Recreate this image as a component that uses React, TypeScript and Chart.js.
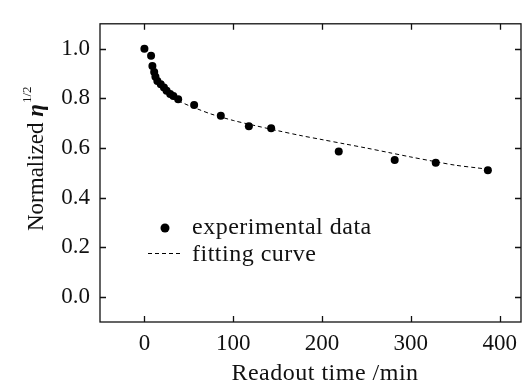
import React, { useEffect, useRef } from "react";
import { Chart, registerables } from "chart.js";

Chart.register(...registerables);

const timeMin = [0, 7.5, 9, 11, 12.4, 14.6, 18.4, 22, 25, 29, 32.6, 38, 56, 86, 117.6, 142.7, 218.8, 281.8, 328, 386.7];
const etaNorm = [1.0, 0.971, 0.93, 0.906, 0.887, 0.87, 0.857, 0.844, 0.831, 0.818, 0.809, 0.796, 0.773, 0.73, 0.688, 0.68, 0.586, 0.552, 0.541, 0.511];

const fitTime = [38, 50, 60, 75, 100, 125, 150, 175, 200, 225, 250, 275, 300, 325, 350, 375, 388];
const fitEta = [0.79, 0.771, 0.757, 0.737, 0.711, 0.69, 0.67, 0.651, 0.634, 0.617, 0.6, 0.582, 0.564, 0.547, 0.531, 0.52, 0.514];

const xTicks = [0, 100, 200, 300, 400];
const yTicks = [0.0, 0.2, 0.4, 0.6, 0.8, 1.0];

const xTitle = "Readout time /min";
const yTitleMain = "Normalized ";
const yTitleSymbol = "η";
const yTitleSup = "1/2";
const legendPoints = "experimental data";
const legendCurve = "fitting curve";

const FONT = "'Liberation Serif', 'Times New Roman', serif";

const framePlugin = {
  id: "frame",
  afterDraw(chart: any) {
    const { ctx, chartArea: a, scales } = chart;
    const xs = scales.x;
    const ys = scales.y;
    ctx.save();
    ctx.strokeStyle = "#111";
    ctx.lineWidth = 1.3;
    ctx.strokeRect(a.left, a.top, a.right - a.left, a.bottom - a.top);
    const tl = 6;
    ctx.beginPath();
    for (const v of xTicks) {
      const px = Math.round(xs.getPixelForValue(v)) + 0.5;
      ctx.moveTo(px, a.bottom);
      ctx.lineTo(px, a.bottom - tl);
      ctx.moveTo(px, a.top);
      ctx.lineTo(px, a.top + tl);
    }
    for (const v of yTicks) {
      const py = Math.round(ys.getPixelForValue(v)) + 0.5;
      ctx.moveTo(a.left, py);
      ctx.lineTo(a.left + tl, py);
      ctx.moveTo(a.right, py);
      ctx.lineTo(a.right - tl, py);
    }
    ctx.stroke();

    // x title
    ctx.fillStyle = "#111";
    ctx.font = `24px ${FONT}`;
    (ctx as any).letterSpacing = "0.5px";
    ctx.textAlign = "center";
    ctx.textBaseline = "alphabetic";
    ctx.fillText(xTitle, 325, 380);

    // legend text
    ctx.textAlign = "left";
    ctx.fillText(legendPoints, 192, 234);
    ctx.fillText(legendCurve, 192, 261);
    (ctx as any).letterSpacing = "0px";

    // y title (rotated)
    ctx.save();
    ctx.translate(43, 231);
    ctx.rotate(-Math.PI / 2);
    ctx.textAlign = "left";
    ctx.font = `23px ${FONT}`;
    ctx.fillText(yTitleMain, 0, 0);
    let w = ctx.measureText(yTitleMain).width;
    ctx.font = `italic bold 23px ${FONT}`;
    ctx.fillText(yTitleSymbol, w, 0);
    w += ctx.measureText(yTitleSymbol).width + 1;
    ctx.font = `13px ${FONT}`;
    ctx.fillText(yTitleSup, w, -12);
    ctx.restore();

    // legend marks
    ctx.fillStyle = "#000";
    ctx.beginPath();
    ctx.arc(165, 228, 4.5, 0, Math.PI * 2);
    ctx.fill();
    ctx.strokeStyle = "#000";
    ctx.lineWidth = 1;
    ctx.setLineDash([4, 3]);
    ctx.beginPath();
    ctx.moveTo(148, 253.5);
    ctx.lineTo(182, 253.5);
    ctx.stroke();
    ctx.restore();
  },
};

export default function App() {
  const ref = useRef<HTMLCanvasElement | null>(null);
  useEffect(() => {
    document.body.style.margin = "0";
    const canvas = ref.current!;
    const chart = new Chart(canvas, {
      type: "scatter",
      data: {
        datasets: [
          {
            label: legendCurve,
            data: fitTime.map((t, i) => ({ x: t, y: fitEta[i] })),
            showLine: true,
            borderColor: "#000",
            borderWidth: 1,
            borderDash: [4, 3],
            pointRadius: 0,
            fill: false,
            tension: 0.3,
          },
          {
            label: legendPoints,
            data: timeMin.map((t, i) => ({ x: t, y: etaNorm[i] })),
            backgroundColor: "#000",
            borderColor: "#000",
            pointRadius: 4,
            borderWidth: 0,
          },
        ],
      },
      options: {
        responsive: false,
        animation: false,
        layout: { padding: { left: 0, top: 14, right: 8, bottom: 0 } },
        plugins: { legend: { display: false }, tooltip: { enabled: false } },
        scales: {
          x: {
            type: "linear",
            min: -50,
            max: 424,
            afterBuildTicks: (s: any) => {
              s.ticks = xTicks.map((v) => ({ value: v }));
            },
            afterFit: (s: any) => {
              s.height = 61;
            },
            grid: { display: false, drawTicks: false },
            border: { display: false },
            ticks: {
              color: "#111",
              padding: 8,
              maxRotation: 0,
              font: { family: FONT, size: 23 },
              callback: (v: any) => String(v),
            },
          },
          y: {
            type: "linear",
            min: -0.1,
            max: 1.1,
            afterBuildTicks: (s: any) => {
              s.ticks = yTicks.map((v) => ({ value: v }));
            },
            afterFit: (s: any) => {
              s.width = 100;
            },
            grid: { display: false, drawTicks: false },
            border: { display: false },
            ticks: {
              color: "#111",
              padding: 10,
              font: { family: FONT, size: 23 },
              callback: (v: any) => Number(v).toFixed(1),
            },
          },
        },
      },
      plugins: [framePlugin],
    });
    return () => chart.destroy();
  }, []);
  return (
    <div style={{ width: 529, height: 383 }}>
      <canvas ref={ref} width={529} height={383} style={{ display: "block" }} />
    </div>
  );
}
